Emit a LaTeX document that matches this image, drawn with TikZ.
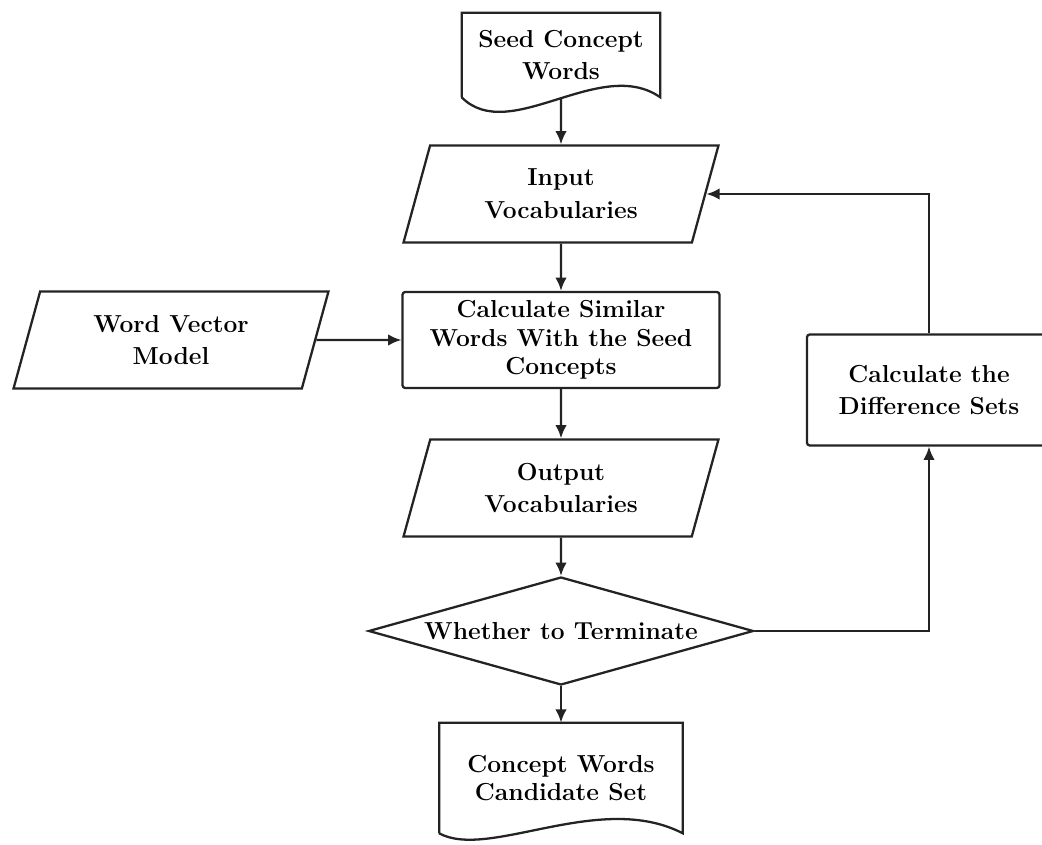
\documentclass[tikz,border=0pt]{standalone}
\usepackage{xcolor}
\usepackage{tikz}
\usetikzlibrary{shapes,arrows,arrows.meta,positioning,calc}
\definecolor{linegray}{RGB}{35,35,35}

\begin{document}
\begin{tikzpicture}[
    x=0.02cm, y=-0.02cm,
    txt/.style={font=\fontsize{14}{18.7}\selectfont\bfseries, align=center},
    io/.style={txt, trapezium, trapezium left angle=62, trapezium right angle=118, trapezium stretches body, draw=linegray, line width=1.3pt, minimum width=6.3cm, minimum height=1.94cm, inner sep=0pt},
    box/.style={txt, rectangle, draw=linegray, line width=1.3pt, rounded corners=1.5pt},
    doc/.style={txt, rectangle, inner sep=0pt},
    decision/.style={txt, diamond, draw=linegray, line width=1.3pt, aspect=3.56, inner sep=0pt, minimum width=7.7cm, minimum height=2.16cm},
    outline/.style={draw=linegray, line width=1.3pt},
    arr/.style={-{Latex[length=7.5pt,width=6.5pt]}, draw=linegray, line width=1.3pt}
]
    \useasboundingbox (0,0) rectangle (1042,845);
    \clip (0,0) rectangle (1042,845);

    \node[doc, minimum width=3.96cm, minimum height=1.68cm] (seed) at (561,55) {Seed Concept\\Words};
    \node[io] (input) at (561,194) {Input\\Vocabularies};
    \node[box, minimum width=6.34cm, minimum height=1.92cm, font=\fontsize{14}{16.2}\selectfont\bfseries] (calc) at (561,340) {Calculate Similar\\Words With the Seed\\Concepts};
    \node[io] (wvm) at (171,340) {Word Vector\\Model};
    \node[io] (output) at (561,488) {Output\\Vocabularies};
    \node[decision] (decide) at (561,631) {Whether to Terminate};
    \node[doc, minimum width=4.86cm, minimum height=2.2cm, font=\fontsize{14}{16.2}\selectfont\bfseries] (cand) at (561,778) {Concept Words\\Candidate Set};
    \node[box, minimum width=4.88cm, minimum height=2.22cm] (diffset) at (929,390) {Calculate the\\Difference Sets};

    % document outlines
    \draw[outline] (seed.south west) -- (seed.north west) -- (seed.north east) -- (seed.south east)
        .. controls +(-60,-42) and +(48,48) .. (seed.south west);
    \draw[outline] (cand.south west) -- (cand.north west) -- (cand.north east) -- (cand.south east)
        .. controls +(-83,-43) and +(50,27) .. (cand.south west);

    \draw[arr] (seed.south) -- (input.north);
    \draw[arr] (input.south) -- (calc.north);
    \draw[arr] (wvm.east) -- (calc.west);
    \draw[arr] (calc.south) -- (output.north);
    \draw[arr] (output.south) -- (decide.north);
    \draw[arr] (decide.south) -- (cand.north);
    \draw[arr] (decide.east) -| (diffset.south);
    \draw[arr] (diffset.north) |- (input.east);
\end{tikzpicture}
\end{document}
